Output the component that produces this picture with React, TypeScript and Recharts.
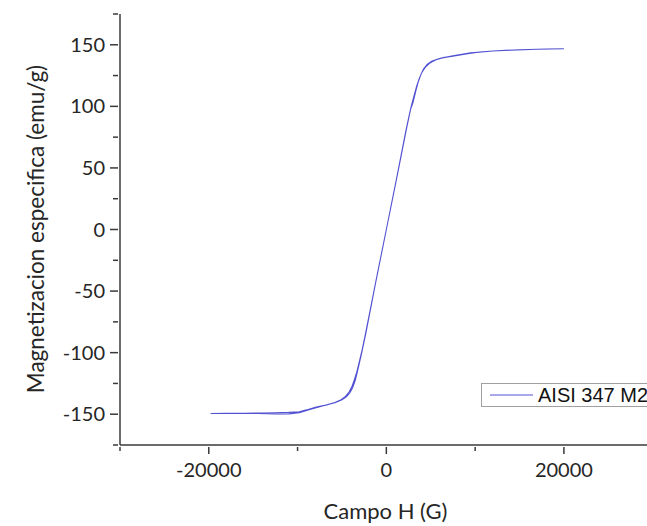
import React from "react";
import {
  LineChart,
  Line,
  XAxis,
  YAxis,
  Legend,
  Label,
} from "recharts";

// descending branch (+H -> -H)
const fieldDown = [
  20000, 17000, 14000, 12000, 10500, 9000, 7500, 6400, 5800, 5100, 4600, 4200,
  3900, 3600, 3300, 3000, 2700, 2200, 1100, 0, -1150, -2300, -2700, -3000,
  -3300, -3600, -3900, -4200, -4600, -5100, -5800, -6800, -7900, -9000, -9800,
  -11000, -12500, -14000, -16000, -18000, -19800,
];
const magDown = [
  146.8, 146.4, 145.6, 144.9, 144.2, 142.6, 140.8, 139.6, 138.5, 136.6, 134,
  130.5, 126, 120, 112, 103, 97, 80, 39.5, 0, -41, -83, -97, -106, -115, -122,
  -128, -132, -135.5, -138.3, -140.5, -142.6, -144.2, -146.5, -148, -148.5,
  -148.8, -149, -149.2, -149.3, -149.4,
];

// ascending branch (-H -> +H)
const fieldUp = [
  -19800, -17000, -14500, -12500, -11000, -9800, -8500, -7000, -5800, -5000,
  -4500, -4100, -3800, -3500, -3200, -2800, -2300, -1200, 0, 1150, 2300, 2800,
  3100, 3400, 3700, 4000, 4400, 4900, 5600, 6500, 7500, 9500, 12000, 15000,
  18000, 20000,
];
const magUp = [
  -149.4, -149.3, -149.4, -149.8, -149.7, -148.7, -146, -143, -140.6, -138.2,
  -135.8, -132.6, -128.5, -122.5, -113.5, -101, -84, -43, 0, 41, 83, 100, 108,
  116, 122.5, 127.5, 131.8, 135.2, 137.8, 139.6, 141.1, 143.4, 145, 146, 146.6,
  146.8,
];

const xTicks = [-30000, -20000, -10000, 0, 10000, 20000];
const xLabelTicks = [-20000, 0, 20000];
const yTicks = [-175, -150, -125, -100, -75, -50, -25, 0, 25, 50, 75, 100, 125, 150, 175];
const yLabelTicks = [-150, -100, -50, 0, 50, 100, 150];

const seriesName = "AISI 347 M2";

const data = [
  ...fieldDown.map((h, i) => ({ h, m: magDown[i] })),
  ...fieldUp.map((h, i) => ({ h, m: magUp[i] })),
];

const AXIS = "#3a3a3a";
const TEXT = "#262626";
const LINE = "#5252d2";
const FONT = "Lato, 'Open Sans', sans-serif";

function XTick(props: any) {
  const { x, y, payload } = props;
  const major = xLabelTicks.includes(payload.value);
  return (
    <g>
      <line x1={x} x2={x} y1={y} y2={y + (major ? 7 : 4)} stroke={AXIS} strokeWidth={1.5} />
      {major && (
        <text x={x} y={y + 30} textAnchor="middle" fill={TEXT} fontSize={20} fontFamily={FONT}>
          {payload.value}
        </text>
      )}
    </g>
  );
}

function YTick(props: any) {
  const { x, y, payload } = props;
  const major = yLabelTicks.includes(payload.value);
  return (
    <g>
      <line x1={x} x2={x - (major ? 8 : 5)} y1={y} y2={y} stroke={AXIS} strokeWidth={1.5} />
      {major && (
        <text x={x - 13} y={y + 7} textAnchor="end" fill={TEXT} fontSize={20} fontFamily={FONT}>
          {payload.value}
        </text>
      )}
    </g>
  );
}

function LegendBox() {
  return (
    <div
      style={{
        width: 190,
        height: 22,
        border: "1px solid #a0a0a0",
        background: "#fff",
        display: "flex",
        alignItems: "center",
        fontFamily: "'Liberation Sans', Arial, sans-serif",
        fontSize: 20,
        color: "#111",
        whiteSpace: "nowrap",
      }}
    >
      <svg width={56} height={22} style={{ display: "block" }}>
        <line x1={8} x2={51} y1={11} y2={11} stroke={LINE} strokeWidth={1} />
      </svg>
      <span>{seriesName}</span>
    </div>
  );
}

export default function App() {
  return (
    <div
      style={{
        position: "absolute",
        left: 0,
        top: 0,
        width: 647,
        height: 526,
        overflow: "hidden",
        background: "#fff",
      }}
    >
      <LineChart
        width={647}
        height={526}
        data={data}
        margin={{ top: 14, right: 0, left: 0, bottom: 0 }}
      >
        <XAxis
          dataKey="h"
          type="number"
          domain={[-30000, 29360]}
          allowDataOverflow
          ticks={xTicks}
          interval={0}
          tick={<XTick />}
          tickLine={false}
          tickSize={0}
          height={81}
          stroke={AXIS}
          strokeWidth={1.5}
        >
          <Label
            content={(p: any) => (
              <text
                x={p.viewBox.x + p.viewBox.width / 2 + 2}
                y={519}
                textAnchor="middle"
                fill={TEXT}
                fontSize={22}
                fontFamily={FONT}
              >
                Campo H (G)
              </text>
            )}
          />
        </XAxis>
        <YAxis
          type="number"
          domain={[-175, 175]}
          ticks={yTicks}
          interval={0}
          tick={<YTick />}
          tickLine={false}
          tickSize={0}
          width={120}
          stroke={AXIS}
          strokeWidth={1.5}
        >
          <Label
            content={() => (
              <text
                x={0}
                y={0}
                transform="translate(35 229) rotate(-90)"
                textAnchor="middle"
                dominantBaseline="central"
                fill={TEXT}
                fontSize={22.5}
                fontFamily={FONT}
              >
                Magnetizacion especifica (emu/g)
              </text>
            )}
          />
        </YAxis>
        <Legend
          layout="vertical"
          align="center"
          verticalAlign="middle"
          content={() => <LegendBox />}
          wrapperStyle={{ left: 481, top: 383, width: 190, height: 24 }}
        />
        <Line
          type="linear"
          dataKey="m"
          name={seriesName}
          stroke={LINE}
          strokeWidth={1.1}
          dot={false}
          isAnimationActive={false}
        />
      </LineChart>
    </div>
  );
}
